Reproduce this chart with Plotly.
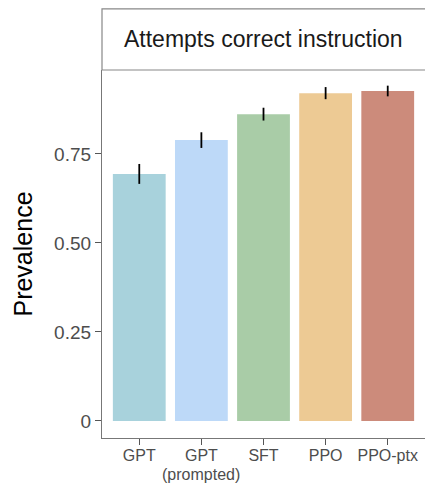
import plotly.graph_objects as go

models = ["GPT", "GPT", "SFT", "PPO", "PPO-ptx"]
subtitles = ["", "(prompted)", "", "", ""]
prevalence = [0.694, 0.789, 0.862, 0.921, 0.927]
err = [0.028, 0.022, 0.018, 0.017, 0.015]
colors = ["#A8D2DC", "#BDD9F8", "#A9CCA7", "#EDCA94", "#CC8B7B"]
ytick_vals = [0, 0.25, 0.5, 0.75]
ytick_text = ["0", "0.25", "0.50", "0.75"]
title = "Attempts correct instruction"

font = "Liberation Sans, Arial, Helvetica, sans-serif"

fig = go.Figure()
fig.add_trace(go.Bar(
    x=list(range(len(models))), y=prevalence,
    marker=dict(color=colors, line=dict(width=0)),
    width=0.85,
    error_y=dict(type="data", array=err, color="black", thickness=1.8, width=0),
))

annotations = [dict(
    text=title, xref="paper", yref="paper",
    x=0.5, y=1.083, xanchor="center", yanchor="middle",
    showarrow=False, font=dict(size=23, color="#1a1a1a", family=font),
)]
for i, s in enumerate(subtitles):
    if s:
        annotations.append(dict(
            text=s, xref="x", yref="paper", x=i, y=-0.124,
            xanchor="center", yanchor="bottom", showarrow=False,
            borderpad=0,
            font=dict(size=16, color="#4d4d4d", family=font),
        ))

fig.update_layout(
    width=425, height=484,
    margin=dict(l=102, r=0, t=70, b=46),
    paper_bgcolor="white", plot_bgcolor="white",
    showlegend=False,
    font=dict(family=font, color="#4d4d4d"),
    xaxis=dict(
        range=[-0.6, 4.6], tickmode="array",
        tickvals=list(range(len(models))), ticktext=models,
        showline=True, linecolor="#777777", linewidth=1.2,
        ticks="outside", ticklen=6, tickcolor="#555555", tickwidth=1.2,
        tickfont=dict(size=16, color="#4d4d4d"),
        ticklabelstandoff=-3,
        showgrid=False, zeroline=False, fixedrange=True,
    ),
    yaxis=dict(
        range=[-0.048, 0.986], tickmode="array",
        tickvals=ytick_vals, ticktext=ytick_text,
        showline=True, linecolor="#777777", linewidth=1.2,
        ticks="outside", ticklen=6, tickcolor="#555555", tickwidth=1.2,
        tickfont=dict(size=19, color="#4d4d4d"),
        showgrid=False, zeroline=False,
        title=dict(text="Prevalence", font=dict(size=25, color="black"), standoff=14),
    ),
    shapes=[dict(
        type="rect", xref="paper", yref="paper",
        x0=0, x1=1.05, y0=1.0, y1=1.166,
        line=dict(color="#888888", width=1.2), fillcolor="white",
    )],
    annotations=annotations,
)

fig.write_html("out.html")
